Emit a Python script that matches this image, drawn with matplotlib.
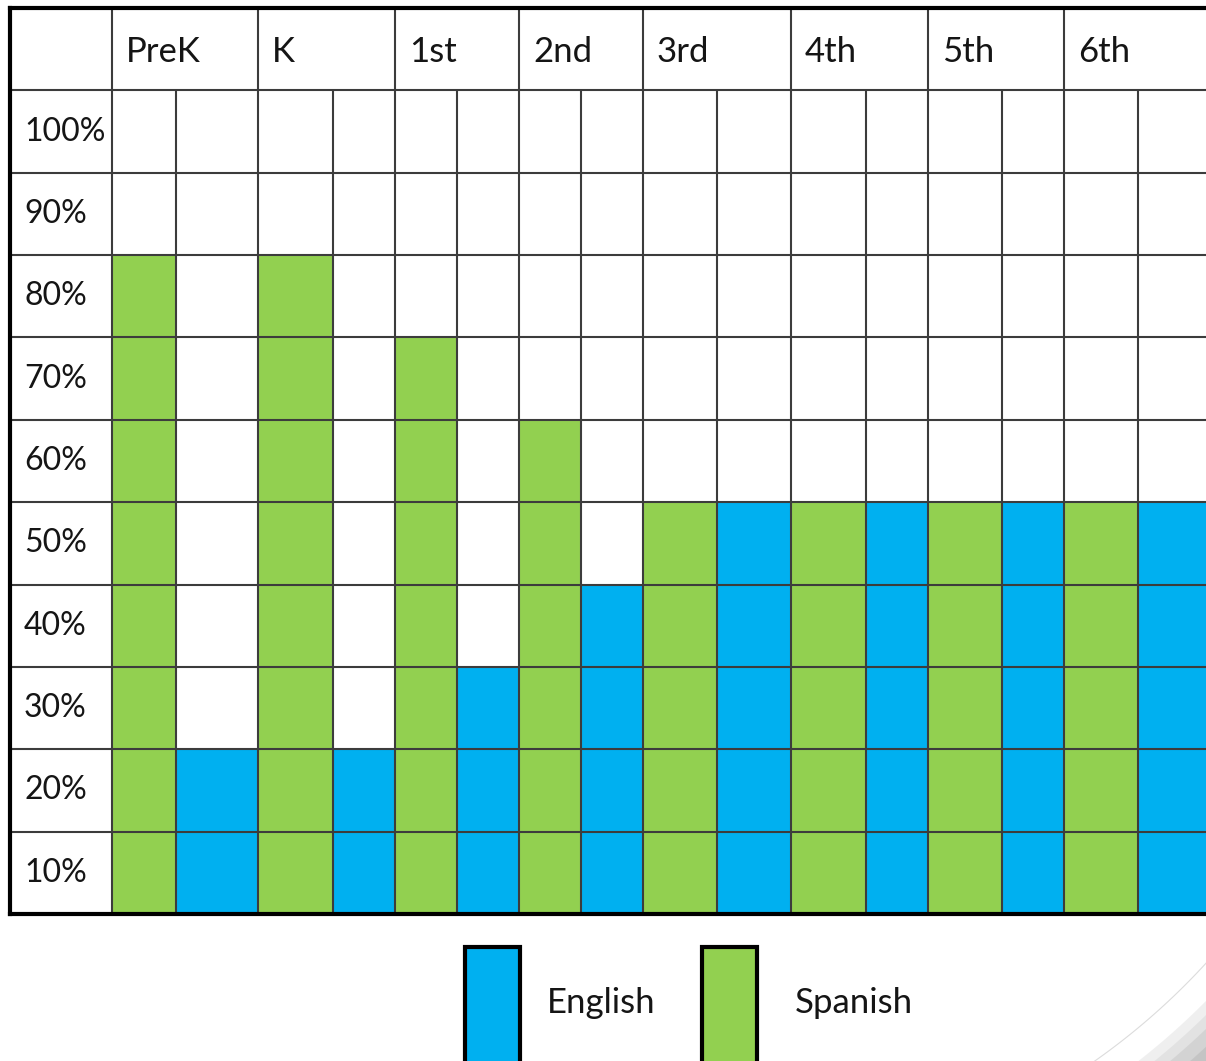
import numpy as np
import matplotlib.pyplot as plt
from matplotlib.patches import Rectangle, Polygon

plt.rcParams['font.family'] = ['Lato', 'DejaVu Sans']

grades = ["PreK", "K", "1st", "2nd", "3rd", "4th", "5th", "6th"]
spanish = [80, 80, 70, 60, 50, 50, 50, 50]
english = [20, 20, 30, 40, 50, 50, 50, 50]
row_labels = ["100%", "90%", "80%", "70%", "60%", "50%", "40%", "30%", "20%", "10%"]

green = "#92D050"
blue = "#00B0F0"
grid_c = "#3c3c3c"
txt_c = "#151515"

# column edges in pixels (two sub-columns per grade)
edges = [112, 176, 258, 333, 395, 457, 519, 581, 643, 717, 791, 866, 928, 1002, 1064, 1138, 1214]
left_x = 10
px_per_10 = (914 - 8) / 11.0


def py(y):
    # pixel row -> percent units
    return (914 - y) / px_per_10 * 10


fig = plt.figure(figsize=(12.06, 10.61), dpi=100)
ax = fig.add_axes([0, 0, 1, 1])
ax.set_xlim(0, 1206)
ax.set_ylim(py(1061), py(0))
ax.axis("off")

# bars
for i in range(len(grades)):
    x0, x1, x2 = edges[2 * i], edges[2 * i + 1], edges[2 * i + 2]
    ax.bar(x0, spanish[i], width=x1 - x0, align="edge", color=green, zorder=1)
    ax.bar(x1, english[i], width=x2 - x1, align="edge", color=blue, zorder=1)

# grid
for k, x in enumerate(edges):
    top = 110 if k % 2 == 0 else 100
    ax.plot([x, x], [0, top], color=grid_c, lw=1.5, zorder=3, solid_capstyle="butt")
for y in range(10, 101, 10):
    ax.plot([left_x, 1214], [y, y], color=grid_c, lw=1.5, zorder=3, solid_capstyle="butt")

# outer border
ax.plot([left_x, 1214], [110, 110], color="black", lw=3, zorder=4, solid_capstyle="projecting")
ax.plot([left_x, 1214], [0, 0], color="black", lw=3, zorder=4, solid_capstyle="projecting")
ax.plot([left_x, left_x], [0, 110], color="black", lw=3, zorder=4, solid_capstyle="projecting")

# header labels
for i, g in enumerate(grades):
    ax.text(edges[2 * i] + 14, 104.6, g, fontsize=25, va="center", ha="left", color=txt_c)

# row labels
for j, lab in enumerate(row_labels):
    ax.text(24, 95 - 10 * j, lab, fontsize=23, va="center", ha="left", color=txt_c)

# legend
ax.add_patch(Rectangle((465, py(1075)), 55, py(947) - py(1075), facecolor=blue,
                       edgecolor="black", lw=3, zorder=5))
ax.text(547, py(1003), "English", fontsize=25, va="center", ha="left", color=txt_c)
ax.add_patch(Rectangle((702, py(1075)), 55, py(947) - py(1075), facecolor=green,
                       edgecolor="black", lw=3, zorder=5))
ax.text(795, py(1003), "Spanish", fontsize=25, va="center", ha="left", color=txt_c)

# slide decoration: faint arc and soft shadow in bottom-right corner
t = np.linspace(0.0, np.pi / 2, 300)
cx, cy, r = 700, 500, 686
arc_x = cx + r * np.cos(t)
arc_y = cy + r * np.sin(t)
m = (arc_x <= 1210) & (arc_y <= 1065) & (arc_y > 930)
ax.plot(arc_x[m], py(arc_y[m]), color="#dcdcdc", lw=0.8, zorder=2)
for r2, a in [(712, 0.15), (722, 0.15), (732, 0.2), (745, 0.25)]:
    sx = cx + r2 * np.cos(t)
    sy = cy + r2 * np.sin(t)
    m2 = (sx <= 1230) & (sy <= 1080)
    pts = list(zip(sx[m2], py(sy[m2])))
    pts += [(1230, py(1080))]
    ax.add_patch(Polygon(pts, closed=True, facecolor="#9a9a9a", edgecolor="none",
                         alpha=a, zorder=2))

fig.savefig("out.png", dpi=100)
plt.close()
